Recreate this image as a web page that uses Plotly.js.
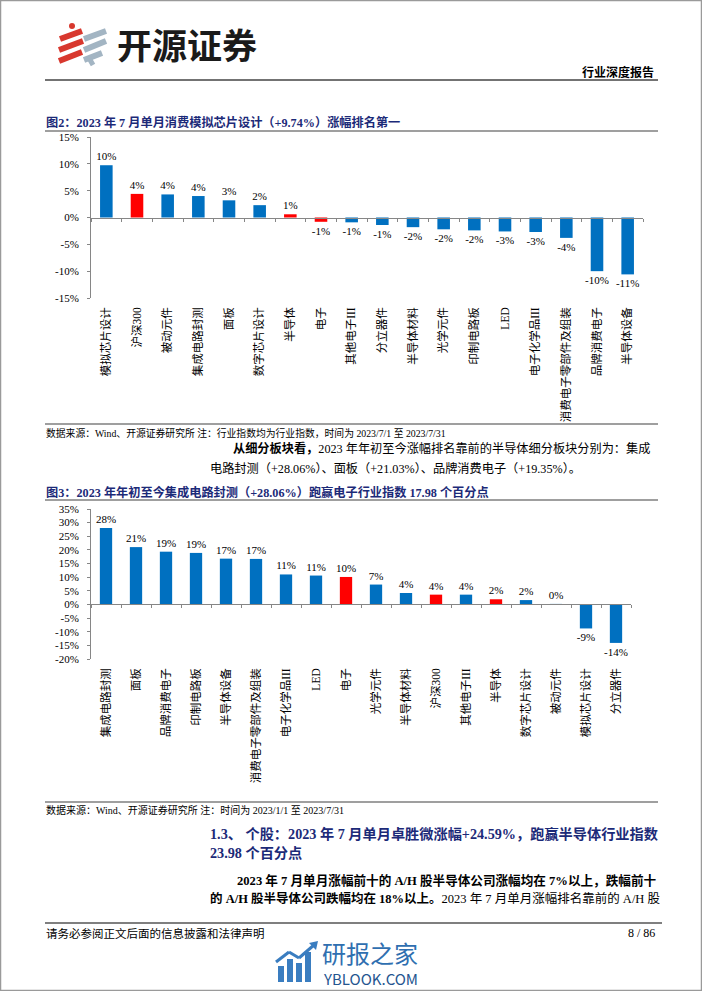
<!DOCTYPE html>
<html>
<head>
<meta charset="utf-8">
<script src="https://cdn.plot.ly/plotly-3.0.1.min.js"></script>
<style>
  html, body { margin: 0; padding: 0; background: #fff; }
  #page { width: 702px; height: 991px; }
</style>
</head>
<body>
<div id="page"></div>
<script>
// 图2: 2023年7月单月涨跌幅 (%)
const julyCategories = ['模拟芯片设计', '沪深300', '被动元件', '集成电路封测', '面板', '数字芯片设计',
    '半导体', '电子', '其他电子III', '分立器件', '半导体材料', '光学元件', '印制电路板', 'LED',
    '电子化学品III', '消费电子零部件及组装', '品牌消费电子', '半导体设备'];
const julyChanges = [9.74, 4.4, 4.3, 4.0, 3.2, 2.3, 0.6, -0.8, -0.9, -1.4, -1.8, -2.2, -2.4, -2.6,
    -2.7, -3.8, -10.0, -10.6];
const julyTicks = [-15, -10, -5, 0, 5, 10, 15];

// 图3: 2023年初至今涨跌幅 (%)
const ytdCategories = ['集成电路封测', '面板', '品牌消费电子', '印制电路板', '半导体设备',
    '消费电子零部件及组装', '电子化学品III', 'LED', '电子', '光学元件', '半导体材料', '沪深300',
    '其他电子III', '半导体', '数字芯片设计', '被动元件', '模拟芯片设计', '分立器件'];
const ytdChanges = [28.06, 21.03, 19.35, 18.9, 16.8, 16.7, 11.0, 10.6, 10.08, 7.3, 4.2, 3.6,
    3.6, 1.9, 1.6, 0.2, -8.8, -14.1];
const ytdTicks = [-20, -15, -10, -5, 0, 5, 10, 15, 20, 25, 30, 35];

// categories drawn in red
const highlighted = ['沪深300', '半导体', '电子'];

const W = 702, H = 991;
const px = x => x / W;
const py = y => 1 - y / H;

const SERIF = 'Liberation Serif, Noto Sans CJK SC, serif';
const SANS = 'Noto Sans CJK SC, sans-serif';
const BLUE = '#0070C0', RED = '#FF0000', AXIS = '#868686', NAVY = '#1C2A78';

const barColors = cats => cats.map(c => highlighted.includes(c) ? RED : BLUE);
const pctLabels = vals => vals.map(v => Math.round(v) + '%');

// plot areas (pixel positions)
const julyDomainX = [px(91), px(643)];
const julyDomainY = [py(298), py(137)];
const julyRange = [-15, 15];
const ytdDomainX = [px(91), px(631)];
const ytdDomainY = [py(659), py(509)];
const ytdRange = [-20, 35];

function zeroPos(domain, range) {
    return domain[0] + (0 - range[0]) / (range[1] - range[0]) * (domain[1] - domain[0]);
}

function barTrace(cats, vals, xa, ya) {
    return {
        type: 'bar', x: cats, y: vals, xaxis: xa, yaxis: ya,
        marker: { color: barColors(cats) },
        text: pctLabels(vals), textposition: 'outside', constraintext: 'none',
        cliponaxis: false, textfont: { family: SERIF, size: 11, color: '#000' },
        hoverinfo: 'skip'
    };
}

// invisible twin so the zero-line axis knows the categories
function twinTrace(cats, vals, xa, ya) {
    return {
        type: 'scatter', mode: 'markers', x: cats, y: vals, xaxis: xa, yaxis: ya,
        marker: { opacity: 0 }, hoverinfo: 'skip'
    };
}

function catAxis(domain, anchor, n) {
    return {
        domain: domain, anchor: anchor, type: 'category', range: [-0.5, n - 0.5],
        tickangle: -90, ticks: '', showline: false, showgrid: false, zeroline: false,
        tickfont: { family: SERIF, size: 11.5, color: '#000' }, ticklabelstandoff: 6,
        fixedrange: true
    };
}

function zeroAxis(domain, over, pos, n) {
    return {
        domain: domain, overlaying: over, anchor: 'free', position: pos, type: 'category',
        range: [-0.5, n - 0.5], showticklabels: false, ticks: 'outside', ticklen: 3,
        tickcolor: AXIS, tickson: 'boundaries', showline: true, linecolor: AXIS, linewidth: 1,
        showgrid: false, zeroline: false, fixedrange: true
    };
}

function valueAxis(domain, anchor, range, ticks) {
    return {
        domain: domain, anchor: anchor, range: range,
        tickmode: 'array', tickvals: ticks, ticktext: ticks.map(v => `${v}%`),
        showline: true, linecolor: AXIS, linewidth: 1, ticks: 'outside', ticklen: 3,
        tickcolor: AXIS, showgrid: false, zeroline: false, ticklabelstandoff: 6,
        tickfont: { family: SERIF, size: 11, color: '#000' }, fixedrange: true
    };
}

const data = [
    barTrace(julyCategories, julyChanges, 'x', 'y'),
    twinTrace(julyCategories, julyChanges, 'x3', 'y'),
    barTrace(ytdCategories, ytdChanges, 'x2', 'y2'),
    twinTrace(ytdCategories, ytdChanges, 'x4', 'y2')
];

// page text
function note(text, x, y, opts) {
    opts = opts || {};
    return {
        xref: 'paper', yref: 'paper', x: px(x), y: py(y), text: text, showarrow: false,
        xanchor: opts.anchor || 'left', yanchor: 'middle',
        font: { family: opts.family || SERIF, size: opts.size || 12, color: opts.color || '#000' }
    };
}

const annotations = [
    note('<b>开源证券</b>', 115, 44, { family: SANS, size: 35, color: '#1a1a1a' }),
    note('<b>行业深度报告</b>', 656, 72, { anchor: 'right', size: 12 }),
    note('<b>图2：2023 年 7 月单月消费模拟芯片设计（+9.74%）涨幅排名第一</b>', 44, 123, { size: 12.2, color: NAVY }),
    note('数据来源：Wind、开源证券研究所 注：行业指数均为行业指数，时间为 2023/7/1 至 2023/7/31', 44, 433, { size: 9.8 }),
    note('<b>从细分板块看，</b>2023 年年初至今涨幅排名靠前的半导体细分板块分别为：集成', 231, 449, { size: 12.2 }),
    note('电路封测（+28.06%）、面板（+21.03%）、品牌消费电子（+19.35%）。', 208, 468, { size: 12.2 }),
    note('<b>图3：2023 年年初至今集成电路封测（+28.06%）跑赢电子行业指数 17.98 个百分点</b>', 44, 492, { size: 12.2, color: NAVY }),
    note('数据来源：Wind、开源证券研究所 注：时间为 2023/1/1 至 2023/7/31', 44, 810, { size: 10 }),
    note('<b>1.3、 个股：2023 年 7 月单月卓胜微涨幅+24.59%，跑赢半导体行业指数</b>', 208, 834, { size: 14.2, color: NAVY }),
    note('<b>23.98 个百分点</b>', 208, 853, { size: 14.2, color: NAVY }),
    note('<b>2023 年 7 月单月涨幅前十的 A/H 股半导体公司涨幅均在 7%以上，跌幅前十</b>', 235, 880, { size: 12.6 }),
    note('<b>的 A/H 股半导体公司跌幅均在 18%以上。</b>2023 年 7 月单月涨幅排名靠前的 A/H 股', 208, 898, { size: 12.5 }),
    note('请务必参阅正文后面的信息披露和法律声明', 44, 933, { size: 11.5 }),
    note('8 / 86', 657, 933, { anchor: 'right', size: 12 }),
    note('研报之家', 320, 952, { family: SANS, size: 24, color: '#2F6FB0' }),
    note('YBLOOK.COM', 321, 978, { family: SANS, size: 15, color: '#24558F' })
];

// rules, border, logo marks
function hline(y, x0, x1, color, width) {
    return { type: 'line', xref: 'paper', yref: 'paper', x0: px(x0), x1: px(x1), y0: py(y), y1: py(y),
        line: { color: color, width: width } };
}
function seg(x0, y0, x1, y1, color, width) {
    return { type: 'line', xref: 'paper', yref: 'paper', x0: px(x0), x1: px(x1), y0: py(y0), y1: py(y1),
        line: { color: color, width: width } };
}
function box(x0, y0, x1, y1, color) {
    return { type: 'rect', xref: 'paper', yref: 'paper', x0: px(x0), x1: px(x1), y0: py(y0), y1: py(y1),
        fillcolor: color, line: { width: 0 } };
}

const LOGO_RED = '#D8382E', LOGO_GREY = '#A3B5C3', WM = '#3A7DC0';
const shapes = [
    { type: 'rect', xref: 'paper', yref: 'paper', x0: px(0.5), x1: px(701.5), y0: py(0.5), y1: py(990.5),
      line: { color: '#9a9a9a', width: 1.5 } },
    hline(80, 45, 658, '#444', 1.5),
    hline(131, 45, 658, '#7f7f7f', 1.5),
    hline(424, 45, 658, '#7f7f7f', 1.5),
    hline(500, 45, 658, '#7f7f7f', 1.5),
    hline(802, 45, 658, '#7f7f7f', 1.5),
    hline(923, 45, 662, '#7f7f7f', 2),
    // logo
    { type: 'circle', xref: 'paper', yref: 'paper', x0: px(69), x1: px(75), y0: py(23), y1: py(29),
      fillcolor: LOGO_RED, line: { width: 0 } },
    seg(60, 39, 82, 31, LOGO_RED, 6),
    seg(59, 50, 83, 41, LOGO_RED, 6),
    seg(59, 61, 82, 52, LOGO_RED, 6),
    seg(84, 39, 106, 31, LOGO_GREY, 6),
    seg(84, 50, 106, 41, LOGO_GREY, 6),
    seg(84, 60, 102, 53, LOGO_GREY, 6),
    seg(89, 58, 93, 65, LOGO_GREY, 5),
    // watermark icon
    box(278, 966, 284, 982, WM),
    box(287, 959, 293, 982, WM),
    box(296, 963, 302, 982, WM),
    box(305, 952, 311, 982, WM),
    seg(276, 962, 289, 952, WM, 3),
    seg(289, 952, 299, 958, WM, 3),
    seg(299, 958, 314, 945, WM, 3),
    { type: 'path', xref: 'paper', yref: 'paper', fillcolor: WM, line: { width: 0 },
      path: `M ${px(318)} ${py(941)} L ${px(309)} ${py(943)} L ${px(316)} ${py(950)} Z` }
];

const layout = {
    width: W, height: H, autosize: false,
    margin: { l: 0, r: 0, t: 0, b: 0, pad: 0 },
    paper_bgcolor: '#fff', plot_bgcolor: 'rgba(0,0,0,0)',
    showlegend: false, bargap: 0.59,
    font: { family: SERIF, color: '#000' },
    xaxis: catAxis(julyDomainX, 'y', julyCategories.length),
    xaxis3: zeroAxis(julyDomainX, 'x', zeroPos(julyDomainY, julyRange), julyCategories.length),
    yaxis: valueAxis(julyDomainY, 'x', julyRange, julyTicks),
    xaxis2: catAxis(ytdDomainX, 'y2', ytdCategories.length),
    xaxis4: zeroAxis(ytdDomainX, 'x2', zeroPos(ytdDomainY, ytdRange), ytdCategories.length),
    yaxis2: valueAxis(ytdDomainY, 'x2', ytdRange, ytdTicks),
    annotations: annotations,
    shapes: shapes
};

Plotly.newPlot('page', data, layout, { staticPlot: true, displayModeBar: false });
</script>
</body>
</html>
